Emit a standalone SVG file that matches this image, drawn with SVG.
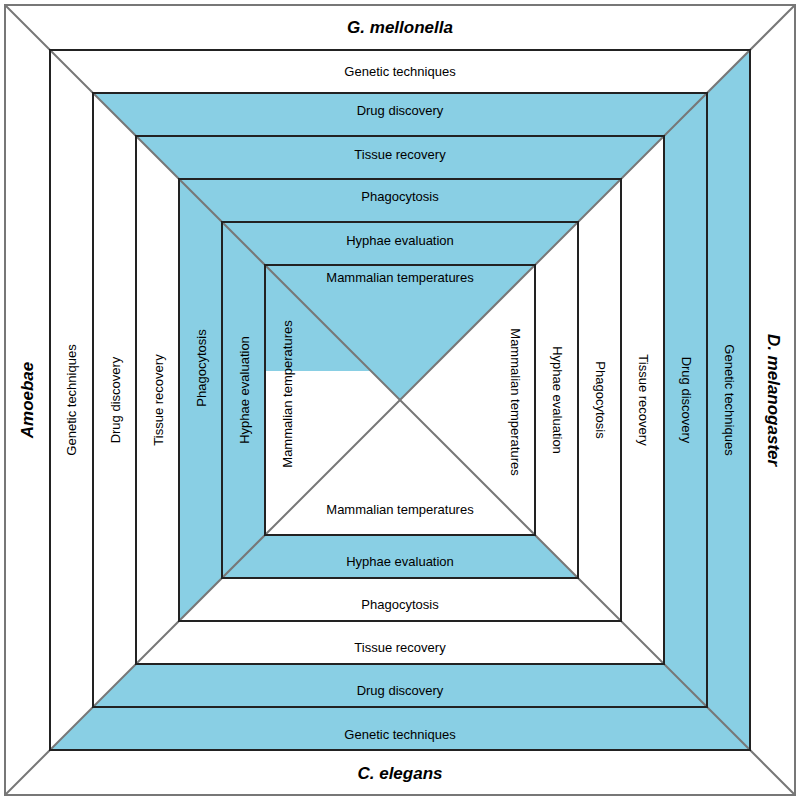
<svg xmlns="http://www.w3.org/2000/svg" width="800" height="800" viewBox="0 0 800 800">
<style>
.b{fill:#89cfe4}
.sq{fill:none;stroke:#222;stroke-width:2}
.t{font-family:"Liberation Sans",Arial,sans-serif;font-size:13px;text-anchor:middle;dominant-baseline:central;fill:#000}
.h{font-family:"Liberation Sans",Arial,sans-serif;font-size:17px;font-weight:bold;font-style:italic;text-anchor:middle;dominant-baseline:central}
</style>
<rect width="800" height="800" fill="#fff"/>
<g id="fills">
<polygon class="b" points="50,750 750,750 707,707 93,707"/>
<polygon class="b" points="750,50 750,750 707,707 707,93"/>
<polygon class="b" points="93,93 707,93 664,136 136,136"/>
<polygon class="b" points="93,707 707,707 664,664 136,664"/>
<polygon class="b" points="707,93 707,707 664,664 664,136"/>
<polygon class="b" points="136,136 664,136 621,179 179,179"/>
<polygon class="b" points="179,179 621,179 578,222 222,222"/>
<polygon class="b" points="179,179 222,222 222,578 179,621"/>
<polygon class="b" points="222,222 578,222 535,265 265,265"/>
<polygon class="b" points="222,222 265,265 265,535 222,578"/>
<polygon class="b" points="222,578 578,578 535,535 265,535"/>
<polygon class="b" points="265,265 535,265 400,400 371,371 265,371"/>
</g>
<g id="connectors" stroke="#777" stroke-width="2">
<line x1="5" y1="5" x2="795" y2="795"/>
<line x1="795" y1="5" x2="5" y2="795"/>
</g>
<g id="squares">
<rect x="5" y="5" width="790" height="790" fill="none" stroke="#777" stroke-width="2"/>
<rect class="sq" x="50" y="50" width="700" height="700"/>
<rect class="sq" x="93" y="93" width="614" height="614"/>
<rect class="sq" x="136" y="136" width="528" height="528"/>
<rect class="sq" x="179" y="179" width="442" height="442"/>
<rect class="sq" x="222" y="222" width="356" height="356"/>
<rect class="sq" x="265" y="265" width="270" height="270"/>
</g>
<g id="titles">
<text class="h" x="400" y="27">G. mellonella</text>
<text class="h" x="400" y="773">C. elegans</text>
<text class="h" transform="translate(27,400) rotate(-90)">Amoebae</text>
<text class="h" transform="translate(773,400) rotate(90)">D. melanogaster</text>
</g>
<g id="band1"><text class="t" x="400" y="71">Genetic techniques</text><text class="t" x="400" y="734">Genetic techniques</text><text class="t" transform="translate(71,400) rotate(-90)">Genetic techniques</text><text class="t" transform="translate(729,400) rotate(90)">Genetic techniques</text></g>
<g id="band2"><text class="t" x="400" y="110">Drug discovery</text><text class="t" x="400" y="690">Drug discovery</text><text class="t" transform="translate(115,400) rotate(-90)">Drug discovery</text><text class="t" transform="translate(686,400) rotate(90)">Drug discovery</text></g>
<g id="band3"><text class="t" x="400" y="154">Tissue recovery</text><text class="t" x="400" y="647">Tissue recovery</text><text class="t" transform="translate(158,400) rotate(-90)">Tissue recovery</text><text class="t" transform="translate(643,400) rotate(90)">Tissue recovery</text></g>
<g id="band4"><text class="t" x="400" y="196">Phagocytosis</text><text class="t" x="400" y="604">Phagocytosis</text><text class="t" transform="translate(201,368) rotate(-90)">Phagocytosis</text><text class="t" transform="translate(600,400) rotate(90)">Phagocytosis</text></g>
<g id="band5"><text class="t" x="400" y="240">Hyphae evaluation</text><text class="t" x="400" y="561">Hyphae evaluation</text><text class="t" transform="translate(244,390) rotate(-90)">Hyphae evaluation</text><text class="t" transform="translate(557,400) rotate(90)">Hyphae evaluation</text></g>
<g id="center"><text class="t" x="400" y="277">Mammalian temperatures</text><text class="t" x="400" y="509">Mammalian temperatures</text><text class="t" transform="translate(287,394) rotate(-90)">Mammalian temperatures</text><text class="t" transform="translate(515,402) rotate(90)">Mammalian temperatures</text></g>
</svg>
